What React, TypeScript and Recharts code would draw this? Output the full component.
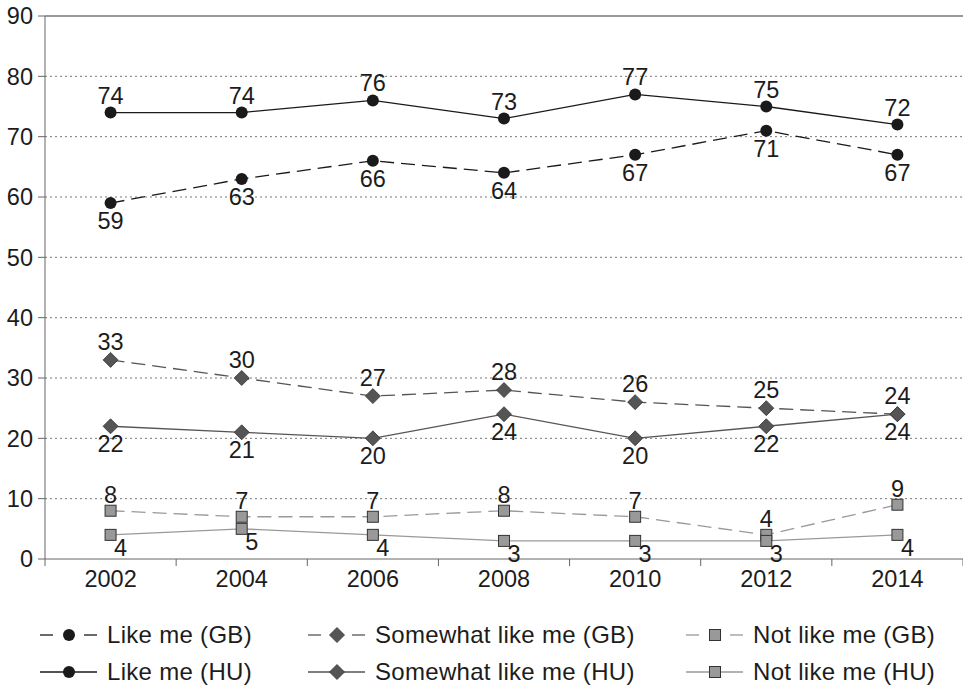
import React from "react";
import { LineChart, Line, XAxis, YAxis, CartesianGrid, LabelList, ReferenceLine } from "recharts";

const years = ["2002", "2004", "2006", "2008", "2010", "2012", "2014"];
const likeGB = [59, 63, 66, 64, 67, 71, 67];
const likeHU = [74, 74, 76, 73, 77, 75, 72];
const someGB = [33, 30, 27, 28, 26, 25, 24];
const someHU = [22, 21, 20, 24, 20, 22, 24];
const notGB = [8, 7, 7, 8, 7, 4, 9];
const notHU = [4, 5, 4, 3, 3, 3, 4];
const yTicks = [0, 10, 20, 30, 40, 50, 60, 70, 80, 90];

const data = years.map((y, i) => ({
  year: y,
  likeGB: likeGB[i],
  likeHU: likeHU[i],
  someGB: someGB[i],
  someHU: someHU[i],
  notGB: notGB[i],
  notHU: notHU[i],
}));

const FONT = "'Liberation Sans', Arial, sans-serif";
const TEXT = "#1c1c1c";
const FS = 23.5;
const BAND = 918 / 7;

type Shape = "circle" | "diamond" | "square";

function Marker({ cx, cy, shape }: { cx: number; cy: number; shape: Shape }) {
  if (cx == null || cy == null) return null;
  if (shape === "circle") return <circle cx={cx} cy={cy} r={6} fill="#1a1a1a" />;
  if (shape === "diamond") {
    const s = 7.5;
    return (
      <polygon
        points={`${cx},${cy - s} ${cx + s},${cy} ${cx},${cy + s} ${cx - s},${cy}`}
        fill="#555"
        stroke="#333"
        strokeWidth={0.8}
      />
    );
  }
  return <rect x={cx - 5.5} y={cy - 5.5} width={11} height={11} fill="#999" stroke="#333" strokeWidth={1} />;
}

const dot = (shape: Shape) => (p: any) => <Marker key={p.index} cx={p.cx} cy={p.cy} shape={shape} />;

const label = (dx: number, dy: number) => (p: any) => (
  <text
    x={p.x + dx}
    y={p.y + dy}
    textAnchor="middle"
    dominantBaseline="central"
    fontSize={FS}
    fontFamily={FONT}
    fill={TEXT}
  >
    {p.value}
  </text>
);

const series = [
  { key: "likeGB", name: "Like me (GB)", color: "#1a1a1a", dash: "14 7", shape: "circle" as Shape, dx: 0, dy: 18 },
  { key: "someGB", name: "Somewhat like me (GB)", color: "#555", dash: "14 7", shape: "diamond" as Shape, dx: 0, dy: -18 },
  { key: "notGB", name: "Not like me (GB)", color: "#999", dash: "14 7", shape: "square" as Shape, dx: 0, dy: -16 },
  { key: "likeHU", name: "Like me (HU)", color: "#1a1a1a", dash: undefined, shape: "circle" as Shape, dx: 0, dy: -17 },
  { key: "someHU", name: "Somewhat like me (HU)", color: "#555", dash: undefined, shape: "diamond" as Shape, dx: 0, dy: 18 },
  { key: "notHU", name: "Not like me (HU)", color: "#999", dash: undefined, shape: "square" as Shape, dx: 10, dy: 13 },
];

function XTick(props: any) {
  const { x, payload, index } = props;
  const last = index === years.length - 1;
  return (
    <g>
      <line x1={x - BAND / 2} x2={x - BAND / 2} y1={559} y2={566} stroke="#666" />
      {last && <line x1={x + BAND / 2} x2={x + BAND / 2} y1={559} y2={566} stroke="#666" />}
      <text x={x} y={579} textAnchor="middle" dominantBaseline="central" fontSize={FS} fontFamily={FONT} fill={TEXT}>
        {payload.value}
      </text>
    </g>
  );
}

function LegendItem({ s }: { s: (typeof series)[number] }) {
  return (
    <div style={{ display: "flex", alignItems: "center", height: 30 }}>
      <svg width={67} height={20} style={{ flex: "none" }}>
        {s.dash ? (
          <>
            <line x1={0} x2={13} y1={10} y2={10} stroke={s.color} strokeWidth={1.3} />
            <line x1={44} x2={57} y1={10} y2={10} stroke={s.color} strokeWidth={1.3} />
          </>
        ) : (
          <line x1={0} x2={57} y1={10} y2={10} stroke={s.color} strokeWidth={1.3} />
        )}
        <Marker cx={29} cy={10} shape={s.shape} />
      </svg>
      <span style={{ fontSize: 24, letterSpacing: 0.3, color: TEXT, fontFamily: FONT, whiteSpace: "nowrap" }}>
        {s.name}
      </span>
    </div>
  );
}

export default function App() {
  const colLeft = [40, 308, 686];
  return (
    <div
      style={{
        position: "fixed",
        top: 0,
        left: 0,
        width: 963,
        height: 686,
        background: "#fff",
        fontFamily: FONT,
        overflow: "hidden",
      }}
    >
      <LineChart width={963} height={600} data={data} margin={{ top: 16, right: 0, left: 0, bottom: 0 }}>
        <CartesianGrid vertical={false} stroke="#777" strokeDasharray="2 3" horizontalValues={[10, 20, 30, 40, 50, 60, 70, 80]} />
        <XAxis
          dataKey="year"
          height={41}
          axisLine={{ stroke: "#666" }}
          tickLine={false}
          tick={<XTick />}
          interval={0}
          padding={{ left: BAND / 2, right: BAND / 2 }}
        />
        <YAxis
          width={45}
          domain={[0, 90]}
          ticks={yTicks}
          interval={0}
          axisLine={{ stroke: "#666" }}
          tickLine={{ stroke: "#666" }}
          tickSize={7}
          tickMargin={5}
          tick={{ fontSize: FS, fill: TEXT, fontFamily: FONT }}
        />
        <ReferenceLine y={90} stroke="#777" strokeWidth={1.5} />
        {series.map((s) => (
          <Line
            key={s.key}
            dataKey={s.key}
            name={s.name}
            stroke={s.color}
            strokeWidth={1.3}
            strokeDasharray={s.dash}
            dot={dot(s.shape)}
            activeDot={false}
            isAnimationActive={false}
          >
            <LabelList dataKey={s.key} content={label(s.dx, s.dy)} />
          </Line>
        ))}
      </LineChart>
      {series.map((s, i) => (
        <div key={s.key} style={{ position: "absolute", left: colLeft[i % 3], top: i < 3 ? 620 : 657 }}>
          <LegendItem s={s} />
        </div>
      ))}
    </div>
  );
}
